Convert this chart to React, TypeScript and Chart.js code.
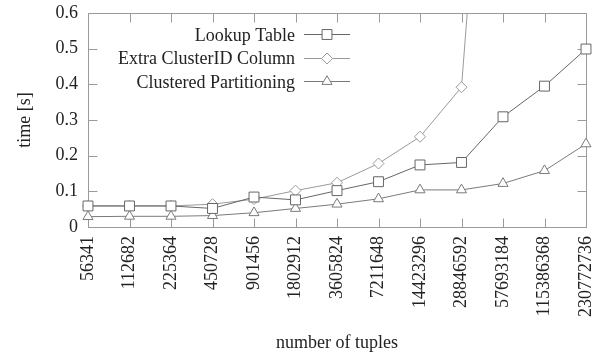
import { useEffect, useRef } from 'react';
import { Chart, registerables } from 'chart.js';

Chart.register(...registerables);

// Number of tuples (category axis)
const tupleCounts = [
  '56341', '112682', '225364', '450728', '901456', '1802912', '3605824',
  '7211648', '14423296', '28846592', '57693184', '115386368', '230772736',
];

// Query time in seconds per approach
const lookupTable = [0.059, 0.059, 0.059, 0.052, 0.084, 0.076, 0.102, 0.127, 0.174, 0.181, 0.309, 0.395, 0.499];
const extraClusterIdColumn = [0.059, 0.059, 0.059, 0.064, 0.078, 0.102, 0.124, 0.178, 0.253, 0.392, 1.9, null, null];
const clusteredPartitioning = [0.029, 0.03, 0.03, 0.032, 0.04, 0.052, 0.064, 0.079, 0.104, 0.104, 0.122, 0.158, 0.233];

const seriesLabels = ['Lookup Table', 'Extra ClusterID Column', 'Clustered Partitioning'];
const yTicks = [0, 0.1, 0.2, 0.3, 0.4, 0.5, 0.6];

const FONT = "'Liberation Serif', 'Times New Roman', serif";
const TEXT = '#222';
const FRAME = '#9a9a9a';

type Marker = 'rect' | 'rectRot' | 'triangle';

function drawMarker(ctx: CanvasRenderingContext2D, style: Marker, x: number, y: number, r: number) {
  ctx.beginPath();
  if (style === 'rect') {
    const s = Math.SQRT1_2 * r;
    ctx.rect(x - s, y - s, 2 * s, 2 * s);
  } else if (style === 'rectRot') {
    ctx.moveTo(x - r, y);
    ctx.lineTo(x, y - r);
    ctx.lineTo(x + r, y);
    ctx.lineTo(x, y + r);
    ctx.closePath();
  } else {
    ctx.moveTo(x - (Math.sqrt(3) * r) / 2, y + r / 2);
    ctx.lineTo(x, y - r);
    ctx.lineTo(x + (Math.sqrt(3) * r) / 2, y + r / 2);
    ctx.closePath();
  }
  ctx.fill();
  ctx.stroke();
}

// Frame around the plot with inward ticks on all four sides
const frameTicks = {
  id: 'frameTicks',
  beforeDatasetsDraw(chart: any) {
    const { ctx, chartArea: a, scales } = chart;
    const x = scales.x;
    const y = scales.y;
    const len = 9;
    const px = (v: number) => Math.round(v) + 0.5;
    ctx.save();
    ctx.strokeStyle = FRAME;
    ctx.lineWidth = 1;
    ctx.beginPath();
    const L = px(a.left), R = px(a.right), T = px(a.top), B = px(a.bottom);
    ctx.rect(L, T, R - L, B - T);
    tupleCounts.forEach((_, i) => {
      const xx = px(x.getPixelForValue(i));
      ctx.moveTo(xx, B);
      ctx.lineTo(xx, B - len);
      ctx.moveTo(xx, T);
      ctx.lineTo(xx, T + len);
    });
    yTicks.forEach((v) => {
      const yy = px(y.getPixelForValue(v));
      ctx.moveTo(L, yy);
      ctx.lineTo(L + len, yy);
      ctx.moveTo(R, yy);
      ctx.lineTo(R - len, yy);
    });
    ctx.stroke();
    ctx.restore();
  },
};

// Key in the upper part of the plot: label on the left, sample on the right
const insideKey = {
  id: 'insideKey',
  afterDatasetsDraw(chart: any) {
    const { ctx, chartArea: a } = chart;
    ctx.save();
    ctx.font = `18px ${FONT}`;
    ctx.textAlign = 'right';
    ctx.textBaseline = 'middle';
    chart.data.datasets.forEach((ds: any, i: number) => {
      const rowY = a.top + 21 + i * 23.5;
      ctx.fillStyle = TEXT;
      ctx.fillText(ds.label, a.left + 207, rowY + 2);
      ctx.strokeStyle = ds.borderColor;
      ctx.lineWidth = 1;
      ctx.beginPath();
      ctx.moveTo(a.left + 216, Math.round(rowY) + 0.5);
      ctx.lineTo(a.left + 262, Math.round(rowY) + 0.5);
      ctx.stroke();
      ctx.fillStyle = '#fff';
      ctx.strokeStyle = ds.pointBorderColor;
      drawMarker(ctx, ds.pointStyle, a.left + 239, Math.round(rowY) + 0.5, ds.pointRadius);
    });
    ctx.restore();
  },
};

export default function App() {
  const canvasRef = useRef<HTMLCanvasElement | null>(null);

  useEffect(() => {
    const canvas = canvasRef.current;
    if (!canvas) return;

    const mk = (label: string, data: (number | null)[], color: string, style: Marker, r: number) => ({
      label,
      data,
      borderColor: color,
      borderWidth: 1,
      pointStyle: style,
      pointRadius: r,
      pointBorderColor: color,
      pointBackgroundColor: '#ffffff',
      pointBorderWidth: 1,
      tension: 0,
      spanGaps: false,
    });

    const chart = new Chart(canvas, {
      type: 'line',
      data: {
        labels: tupleCounts,
        datasets: [
          mk(seriesLabels[0], lookupTable, '#666666', 'rect', 7),
          mk(seriesLabels[1], extraClusterIdColumn, '#9a9a9a', 'rectRot', 5.5),
          mk(seriesLabels[2], clusteredPartitioning, '#7a7a7a', 'triangle', 5.8),
        ],
      },
      options: {
        animation: false,
        responsive: false,
        maintainAspectRatio: false,
        devicePixelRatio: 1,
        layout: { padding: { top: 13, right: 16, left: 0, bottom: 0 } },
        plugins: {
          legend: { display: false },
          tooltip: { enabled: false },
        },
        scales: {
          x: {
            type: 'category',
            offset: false,
            grid: { display: false, drawTicks: false },
            border: { display: false },
            ticks: {
              autoSkip: false,
              minRotation: 90,
              maxRotation: 90,
              padding: 9,
              color: TEXT,
              font: { family: FONT, size: 18 },
            },
            title: {
              display: true,
              text: 'number of tuples',
              color: TEXT,
              font: { family: FONT, size: 18 },
              padding: { top: 0, bottom: 4 },
            },
            afterFit: (scale: any) => {
              scale.height = 131;
              scale.paddingLeft = 0;
              scale.paddingRight = 0;
            },
          },
          y: {
            min: 0,
            max: 0.6,
            grid: { display: false, drawTicks: false },
            border: { display: false },
            ticks: {
              stepSize: 0.1,
              padding: 10,
              color: TEXT,
              font: { family: FONT, size: 18 },
              callback: (v: any) => (Number(v) === 0 ? '0' : Number(v).toFixed(1)),
            },
            title: {
              display: true,
              text: 'time [s]',
              color: TEXT,
              font: { family: FONT, size: 18 },
              padding: { top: 14, bottom: 0 },
            },
            afterFit: (scale: any) => {
              scale.width = 88;
              scale.paddingTop = 0;
              scale.paddingBottom = 0;
            },
          },
        },
      } as any,
      plugins: [frameTicks, insideKey],
    });

    return () => chart.destroy();
  }, []);

  return (
    <div style={{ position: 'fixed', left: 0, top: 0, width: 602, height: 358, background: '#fff' }}>
      <canvas ref={canvasRef} width={602} height={358} style={{ width: 602, height: 358 }} />
    </div>
  );
}
